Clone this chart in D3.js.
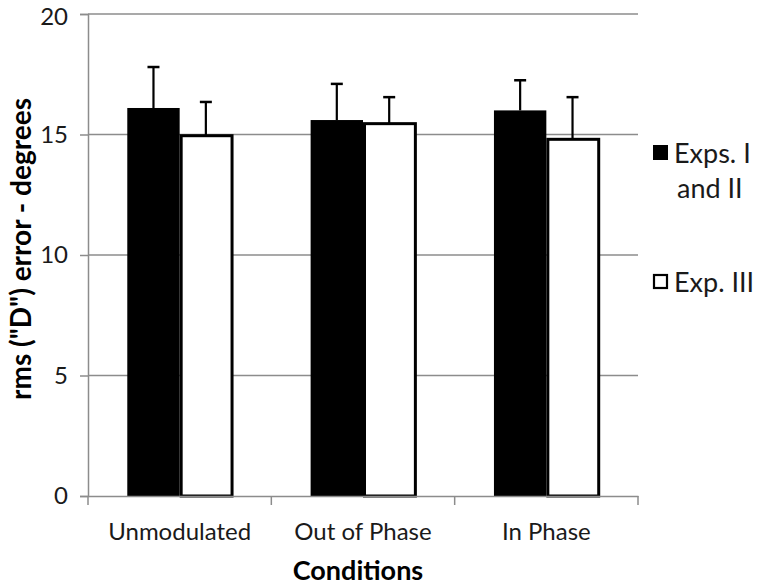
<!DOCTYPE html>
<html>
<head>
<meta charset="utf-8">
<script src="https://cdn.jsdelivr.net/npm/d3@7"></script>
<style>
  html, body { margin: 0; padding: 0; background: #fff; }
  svg { display: block; font-family: Lato, "Open Sans", sans-serif; }
</style>
</head>
<body>
<svg id="chart" width="760" height="588"></svg>
<script>
const categories = ["Unmodulated", "Out of Phase", "In Phase"];
const seriesNames = ["Exps. I and II", "Exp. III"];
const expsIandII = [16.1, 15.6, 16.0];
const expIII = [14.95, 15.45, 14.8];
const errIandII = [1.7, 1.5, 1.25];
const errIII = [1.4, 1.1, 1.75];
const yTicks = [0, 5, 10, 15, 20];

(function () {
const svg = d3.select("#chart");
const mLeft = 88, mRight = 638, mTop = 14, mBottom = 496;

const y = d3.scaleLinear().domain([0, 20]).range([mBottom, mTop]);
const x0 = d3.scaleBand().domain(categories).range([mLeft, mRight]).padding(0);
const x1 = d3.scaleBand().domain(seriesNames).range([0, x0.bandwidth()])
  .paddingInner(0).paddingOuter(0.75);

const gridColor = "#8c8c8c";
const textColor = "#1a1a1a";

// gridlines
svg.append("g").selectAll("line").data(yTicks.filter(d => d > 0)).join("line")
  .attr("x1", mLeft).attr("x2", mRight)
  .attr("y1", d => y(d)).attr("y2", d => y(d))
  .attr("stroke", gridColor).attr("stroke-width", 1.5);

// y axis
const yAxis = d3.axisLeft(y).tickValues(yTicks).tickSize(8).tickPadding(12);
const gy = svg.append("g").attr("transform", `translate(${mLeft},0)`).call(yAxis);
gy.select(".domain").attr("stroke", gridColor).attr("stroke-width", 1.5);
gy.selectAll(".tick line").attr("stroke", gridColor).attr("stroke-width", 1.5);
gy.selectAll(".tick text").attr("font-size", 24).attr("fill", textColor)
  .attr("font-family", "Lato, sans-serif")
  .attr("dy", d => d === 20 ? "0.43em" : "0.32em");

// bars
const data = categories.map((c, i) => ({
  cat: c,
  vals: [
    { s: seriesNames[0], v: expsIandII[i], e: errIandII[i] },
    { s: seriesNames[1], v: expIII[i], e: errIII[i] }
  ]
}));

const groups = svg.append("g").selectAll("g").data(data).join("g")
  .attr("transform", d => `translate(${x0(d.cat)},0)`);

groups.selectAll("rect").data(d => d.vals).join("rect")
  .attr("x", d => d.s === seriesNames[1] ? x1(d.s) + 1.5 : x1(d.s))
  .attr("width", d => d.s === seriesNames[1] ? x1.bandwidth() - 1.5 : x1.bandwidth())
  .attr("y", d => y(d.v))
  .attr("height", d => y(0) - y(d.v))
  .attr("fill", d => d.s === seriesNames[0] ? "#000" : "#fff")
  .attr("stroke", d => d.s === seriesNames[0] ? "none" : "#000")
  .attr("stroke-width", 3);

// error bars (upper only)
groups.selectAll("line.err").data(d => d.vals).join("line")
  .attr("class", "err")
  .attr("x1", d => x1(d.s) + x1.bandwidth() / 2)
  .attr("x2", d => x1(d.s) + x1.bandwidth() / 2)
  .attr("y1", d => y(d.v))
  .attr("y2", d => y(d.v + d.e))
  .attr("stroke", "#000").attr("stroke-width", 2.2);
groups.selectAll("line.cap").data(d => d.vals).join("line")
  .attr("class", "cap")
  .attr("x1", d => x1(d.s) + x1.bandwidth() / 2 - 6)
  .attr("x2", d => x1(d.s) + x1.bandwidth() / 2 + 6)
  .attr("y1", d => y(d.v + d.e))
  .attr("y2", d => y(d.v + d.e))
  .attr("stroke", "#000").attr("stroke-width", 2.5);

// x axis
const xAxis = d3.axisBottom(x0).tickSize(0).tickPadding(27);
const gx = svg.append("g").attr("transform", `translate(0,${mBottom})`).call(xAxis);
gx.select(".domain").attr("stroke", gridColor).attr("stroke-width", 1.5);
gx.selectAll(".tick text").attr("font-size", 24).attr("fill", textColor)
  .attr("font-family", "Lato, sans-serif");
// category boundary ticks
const bounds = categories.map(c => x0(c)).concat([x0(categories[categories.length - 1]) + x0.bandwidth()]);
gx.append("g").selectAll("line").data(bounds).join("line")
  .attr("x1", d => d).attr("x2", d => d)
  .attr("y1", 0).attr("y2", 9)
  .attr("stroke", gridColor).attr("stroke-width", 1.5);

// axis titles
svg.append("text")
  .attr("x", 358).attr("y", 580)
  .attr("text-anchor", "middle").attr("font-size", 27).attr("font-weight", "bold")
  .attr("fill", "#000").text("Conditions");
svg.append("text")
  .attr("transform", "translate(31,249) rotate(-90)")
  .attr("text-anchor", "middle").attr("font-size", 28).attr("font-weight", "bold")
  .attr("fill", "#000").text('rms ("D") error - degrees');

// legend
const legend = svg.append("g");
legend.append("rect").attr("x", 653).attr("y", 145).attr("width", 15).attr("height", 15)
  .attr("fill", "#000");
legend.append("text").attr("x", 674).attr("y", 163).attr("font-size", 27).attr("fill", textColor)
  .text("Exps. I");
legend.append("text").attr("x", 677).attr("y", 198).attr("font-size", 27).attr("fill", textColor)
  .text("and II");
legend.append("rect").attr("x", 654).attr("y", 275).attr("width", 13).attr("height", 13)
  .attr("fill", "#fff").attr("stroke", "#000").attr("stroke-width", 2.2);
legend.append("text").attr("x", 674).attr("y", 292).attr("font-size", 27).attr("fill", textColor)
  .text("Exp. III");
})();
</script>
</body>
</html>
